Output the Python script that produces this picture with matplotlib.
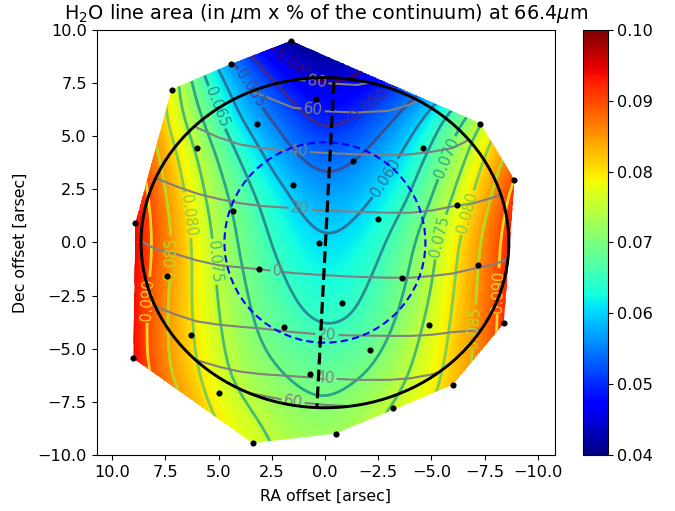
import numpy as np
import matplotlib
matplotlib.use("Agg")
import matplotlib.pyplot as plt
import matplotlib.tri as mtri
from matplotlib.patches import Ellipse, Polygon

# spaxel positions (RA, Dec offsets)
dot_ra = [1.6, 4.4, 7.2, 0.4, 3.2, 6.0, 1.5, 4.3, 8.9, 0.3, -7.3, -4.6, -1.3, -6.2, -2.5, -8.9,
          3.1, 7.4, 1.9, 6.3, 9.0, 0.7, 5.0, -0.5, 3.4, -7.2, -3.6, -0.8, -4.9, -2.1, -8.4, -6.0, -3.2]
dot_dec = [9.5, 8.4, 7.2, 6.75, 5.6, 4.45, 2.7, 1.5, 0.9, -0.03, 5.6, 4.45, 3.85, 1.75, 1.1, 2.95,
           -1.25, -1.6, -4.0, -4.35, -5.45, -6.2, -7.1, -9.0, -9.45, -1.05, -1.65, -2.85, -3.9, -5.05, -3.8, -6.7, -7.8]

# line area read on a regular grid
grid_ra = [10, 8, 6, 4, 2, 0, -2, -4, -6, -8, -10]
grid_dec = [10, 8, 6, 4, 2, 0, -2, -4, -6, -8, -10]
area = [
    [.090, .080, .060, .048, .0400, .0390, .0400, .044, .050, .060, .075],
    [.095, .085, .067, .055, .0478, .0435, .0455, .050, .0565, .066, .080],
    [.097, .0835, .0711, .0598, .0528, .0483, .0511, .057, .0666, .0775, .090],
    [.099, .0862, .0750, .0647, .0571, .0532, .0559, .0619, .0715, .0829, .093],
    [.100, .0884, .0771, .0679, .0613, .0573, .0596, .0654, .0755, .0862, .099],
    [.100, .0893, .0785, .0695, .0636, .0603, .0627, .0689, .0785, .0886, .100],
    [.100, .0884, .0788, .0708, .0655, .0626, .0649, .0706, .0796, .0891, .100],
    [.100, .0878, .0792, .0720, .0672, .0650, .0665, .0729, .0806, .0896, .100],
    [.100, .0882, .0802, .0734, .0698, .0680, .0698, .0750, .0816, .0900, .100],
    [.100, .0925, .0825, .0763, .0725, .0709, .0735, .0775, .0835, .0910, .100],
    [.100, .0950, .0850, .0790, .0745, .0730, .0750, .0800, .0860, .0920, .100],
]

# planetary latitude lines: Dec offset of each latitude at each RA offset
lat_ra = [9, 8, 7, 6, 5, 4, 3, 1.5, 0, -1.5, -3, -4, -5, -6, -7, -8, -9]
lat_levels = [-90, -60, -40, -20, 0, 20, 40, 60, 80, 90]
lat_dec = [
    [-8.2] * 17,
    [-7.0, -7.0, -7.0, -7.0, -7.0, -7.0, -7.2, -7.5, -7.65, -7.72, -7.5, -7.2, -7.0, -7.0, -7.0, -7.0, -7.0],
    [-4.8, -4.8, -5.0, -5.55, -5.85, -6.08, -6.2, -6.3, -6.4, -6.47, -6.47, -6.4, -6.22, -5.9, -5.4, -5.0, -5.0],
    [-2.4, -3.0, -3.4, -3.72, -3.87, -3.97, -4.05, -4.22, -4.35, -4.38, -4.4, -4.4, -4.35, -4.22, -4.15, -3.9, -3.4],
    [0.3, -0.3, -0.55, -0.85, -1.07, -1.17, -1.27, -1.44, -1.54, -1.62, -1.66, -1.66, -1.58, -1.46, -1.23, -1.02, -0.6],
    [3.6, 3.05, 2.65, 2.3, 2.05, 1.85, 1.72, 1.62, 1.5, 1.45, 1.4, 1.4, 1.5, 1.7, 1.85, 2.15, 2.6],
    [6.0, 6.0, 6.0, 5.4, 4.95, 4.62, 4.45, 4.3, 4.22, 4.15, 4.12, 4.15, 4.27, 4.45, 4.95, 5.2, 5.2],
    [7.8, 7.8, 7.8, 7.8, 7.8, 7.3, 6.95, 6.35, 6.18, 6.12, 6.2, 6.5, 7.0, 7.4, 7.4, 7.4, 7.4],
    [7.9, 7.9, 7.9, 7.9, 7.9, 7.9, 7.9, 7.7, 7.5, 7.42, 7.7, 7.9, 7.9, 7.9, 7.9, 7.9, 7.9],
    [8.2] * 17,
]

area_levels = [.045, .05, .055, .06, .065, .07, .075, .08, .085, .09]
cbar_ticks = [.04, .05, .06, .07, .08, .09, .10]
x_ticks = [10, 7.5, 5, 2.5, 0, -2.5, -5, -7.5, -10]
y_ticks = [10, 7.5, 5, 2.5, 0, -2.5, -5, -7.5, -10]

fig = plt.figure(figsize=(6.75, 5.11), dpi=100)
ax = fig.add_axes([0.143, 0.110, 0.679, 0.831])
cax = fig.add_axes([0.8635, 0.110, 0.0365, 0.831])
ax.set_xlim(10.73, -10.8)
ax.set_ylim(-10, 10)
ax.set_autoscale_on(False)

RA, DEC = np.meshgrid(grid_ra, grid_dec)
tri = mtri.Triangulation(RA.ravel(), DEC.ravel())
z = np.array(area).ravel()
interp = mtri.CubicTriInterpolator(tri, z, kind="geom")
fine_ra = np.linspace(10, -10, 201)
fine_dec = np.linspace(10, -10, 201)
FR, FD = np.meshgrid(fine_ra, fine_dec)
fine = np.ma.filled(interp(FR, FD), 0.07)

# light smoothing of the read table: the hand readings are noisy
kernel = np.exp(-0.5 * (np.arange(-14, 15) / 7.0) ** 2)
kernel /= kernel.sum()
pad = 14
fine = np.pad(fine, pad, mode="edge")
fine = np.apply_along_axis(lambda c: np.convolve(c, kernel, mode="same"), 0, fine)
fine = np.apply_along_axis(lambda c: np.convolve(c, kernel, mode="same"), 1, fine)
fine = np.clip(fine[pad:-pad, pad:-pad], 0.04, 0.10)

# convex hull of the spaxels
pts = sorted(zip(dot_ra, dot_dec))
def half(seq):
    out = []
    for p in seq:
        while len(out) > 1 and (out[-1][0]-out[-2][0])*(p[1]-out[-2][1]) - (out[-1][1]-out[-2][1])*(p[0]-out[-2][0]) <= 0:
            out.pop()
        out.append(p)
    return out[:-1]
hull = half(pts) + half(pts[::-1])
hull_patch = Polygon(hull, closed=True, transform=ax.transData, fc="none", ec="none")
ax.add_patch(hull_patch)

filled = ax.contourf(FR, FD, fine, levels=np.linspace(0.04, 0.10, 121), cmap="jet", vmin=0.04, vmax=0.10)
filled.set_clip_path(hull_patch)
filled.set_edgecolor("face")
filled.set_linewidth(0.2)

lines = ax.contour(FR, FD, fine, levels=area_levels, cmap="viridis", linewidths=2, alpha=0.9)
lines.set_clip_path(hull_patch)
ax.clabel(lines, fmt="%.3f", fontsize=10.5, inline=True, inline_spacing=2, manual=[
    (1.55, 8.35), (3.6, 7.2), (5.07, 6.37), (-2.2, 6.3), (-2.9, 3.0), (-5.7, 4.0),
    (-5.25, 0.3), (-6.7, 1.4), (6.3, 1.3), (5.07, -0.9), (7.3, -0.75), (8.35, -2.7),
    (-8.1, -2.3), (-6.95, -4.0)])

limb = Ellipse((0, -0.01), 17.28, 15.55, fc="none", ec="black", lw=2.1, zorder=6)
ax.add_patch(limb)
LRA, LV = np.meshgrid(lat_ra, lat_levels)
lat = ax.contour(LRA, np.array(lat_dec), LV, levels=[-60, -40, -20, 0, 20, 40, 60, 80],
                 colors="gray", linewidths=1.5, linestyles="solid")
lat.set_clip_path(limb)
ax.clabel(lat, fmt=lambda v: f"{abs(v):.0f}", fontsize=11, inline=True, inline_spacing=2, manual=[
    (0.38, 7.55), (0.55, 6.3), (1.26, 4.3), (1.17, 1.6), (2.25, -1.4),
    (-0.1, -4.3), (0, -6.4), (1.5, -7.5)])

ax.add_patch(Ellipse((0, 0), 9.44, 9.44, fc="none", ec="blue", lw=1.5, ls=(0, (3.5, 2)), zorder=6))
ax.plot([-0.42, 0.38], [7.55, -7.8], color="black", lw=2.3, ls=(0, (3.7, 1.6)), zorder=6)
ax.plot(dot_ra, dot_dec, "o", color="black", ms=3.4, zorder=7, clip_on=False)

ax.set_xticks(x_ticks)
ax.set_yticks(y_ticks)
ax.set_xticklabels([f"{v:.1f}".replace("-", "\u2212") for v in x_ticks])
ax.set_yticklabels([f"{v:.1f}".replace("-", "\u2212") for v in y_ticks])
ax.tick_params(labelsize=11.6)
ax.set_xlabel("RA offset [arsec]", fontsize=11.3, labelpad=7)
ax.set_ylabel("Dec offset [arsec]", fontsize=11.3, labelpad=7)
ax.set_title(r"H$_2$O line area (in $\mu$m x % of the continuum) at 66.4$\mu$m", fontsize=13.9, pad=8)

cb = fig.colorbar(filled, cax=cax)
cb.set_ticks(cbar_ticks)
cb.set_ticklabels([f"{v:.2f}" for v in cbar_ticks])
cb.ax.tick_params(labelsize=11.6)
fig.savefig("out.png", dpi=100)
